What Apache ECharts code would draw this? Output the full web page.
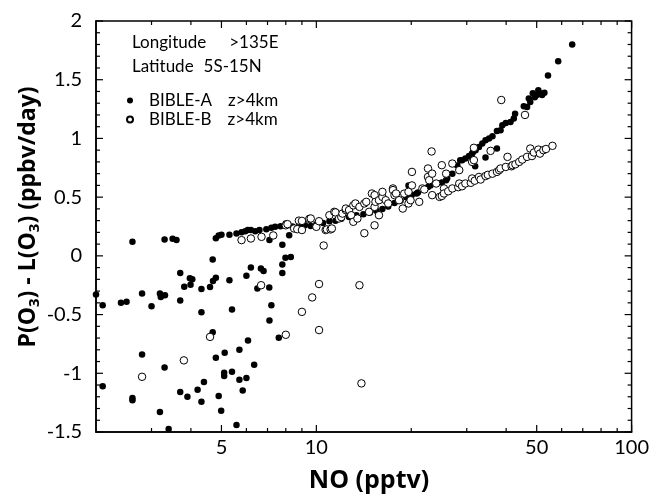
<!DOCTYPE html>
<html><head><meta charset="utf-8">
<script src="https://cdn.jsdelivr.net/npm/echarts@6/dist/echarts.min.js"></script>
<style>html,body{margin:0;padding:0;background:#fff}#c{width:652px;height:494px}</style>
</head><body><div id="c"></div>
<script>
// ---- axis ranges and tick values ----
const xMin = 2, xMax = 100;
const yMin = -1.5, yMax = 2, yStep = 0.5;
const xMajorTicks = [5, 10, 50, 100];
const xMinorTicks = [3, 4, 6, 7, 8, 9, 20, 30, 40, 60, 70, 80, 90];
const yMajorTicks = [-1.5, -1, -0.5, 0, 0.5, 1, 1.5, 2];
const yMinorTicks = [-1.4, -1.3, -1.2, -1.1, -0.9, -0.8, -0.7, -0.6, -0.4, -0.3, -0.2, -0.1,
                     0.1, 0.2, 0.3, 0.4, 0.6, 0.7, 0.8, 0.9, 1.1, 1.2, 1.3, 1.4, 1.6, 1.7, 1.8, 1.9];

// ---- BIBLE-A (filled) : [NO pptv, P(O3)-L(O3) ppbv/day] ----
const bibleA = [
  [2.0,-0.33],[2.1,-0.42],[2.1,-1.11],[2.4,-0.40],[2.5,-0.39],[2.61,0.12],[2.61,-1.21],[2.61,-1.23],
  [2.8,-0.32],[2.8,-0.84],[3.0,-0.43],[3.19,-0.32],[3.19,-1.33],[3.21,-0.35],[3.31,-0.335],[3.3,0.14],
  [3.3,-0.95],[3.4,-1.475],[3.5,0.145],[3.6,0.134],[3.7,-0.145],[3.7,-0.38],[3.7,-1.16],[3.81,-0.264],
  [3.9,-1.2],[3.97,-0.19],[4.04,-0.2],[3.99,-0.247],[4.2,-1.14],[4.32,-0.283],[4.32,-0.48],[4.32,-1.243],
  [4.4,-1.075],[4.6,-0.266],[4.69,-0.03],[4.69,-0.65],[4.7,-0.215],[4.8,-0.187],[4.8,-0.868],[4.9,-1.194],
  [4.99,-1.32],[5.1,-0.996],[5.1,-1.024],[5.12,-0.826],[5.3,-0.207],[5.4,-0.456],[5.4,-0.987],[5.58,-1.44],
  [5.7,-0.8],[5.7,-1.055],[5.84,-1.146],[6.0,-0.17],[6.0,-1.04],[6.07,-0.72],[6.2,-0.1],[6.35,-0.928],
  [6.5,-0.277],[6.67,-0.107],[6.8,-0.128],[7.09,-0.269],[7.2,-0.42],[7.1,-0.55],[7.1,0.134],[7.6,-0.698],
  [7.8,0.094],[7.8,-0.073],[7.8,-0.145],[7.98,-0.017],[8.3,-0.009],[8.2,0.176],
  [4.8,0.15],[4.9,0.174],[5.0,0.18],[5.3,0.18],[5.58,0.19],[5.79,0.2],[5.95,0.21],[6.06,0.22],[6.2,0.22],
  [6.4,0.21],[6.6,0.22],[6.94,0.227],[7.2,0.24],[7.4,0.247],[7.7,0.253],[8.0,0.26],[8.0,0.276],[8.4,0.25],
  [8.8,0.25],[9.2,0.26],[9.6,0.255],[10.0,0.27],[10.5,0.28],[11.0,0.295],[11.5,0.30],[12.0,0.315],
  [12.7,0.33],[13.4,0.345],[14.1,0.355],[14.8,0.37],[15.5,0.385],[16.2,0.40],[16.9,0.42],[17.7,0.45],
  [18.5,0.47],[19.3,0.50],[19.6,0.60],[20.1,0.52],[20.8,0.53],[21.0,0.54],[22.0,0.57],[22.6,0.587],
  [23.0,0.60],[24.0,0.615],[25.0,0.625],[25.8,0.644],[26.0,0.66],[27.0,0.70],[28.0,0.77],[28.6,0.815],
  [29.0,0.815],[29.7,0.829],[30.5,0.85],[31.2,0.871],[31.4,0.885],[32.0,0.9],[32.8,0.928],[33.6,0.957],
  [34.4,0.985],[35.3,1.0],[36.2,1.019],[37.4,1.064],[38.4,1.07],[38.9,1.112],[39.9,1.132],[41.3,1.14],
  [42.3,1.17],[42.7,1.21],[45.5,1.274],[46.6,1.268],[47.2,1.34],[47.7,1.31],[48.6,1.385],[49.3,1.35],
  [50.0,1.37],[50.6,1.41],[51.5,1.38],[52.0,1.37],[52.9,1.39],[54.3,1.535],[58.5,1.657],[64.8,1.80],
  [37.4,0.914],[34.4,0.837],[31.9,0.763]
];

// ---- BIBLE-B (open) ----
const bibleB = [
  [2.8,-1.03],[3.8,-0.89],[4.6,-0.69],[6.68,-0.25],[8.0,-0.672],[9.0,-0.477],[9.7,-0.354],[10.2,-0.24],
  [10.2,-0.632],[10.55,0.088],[13.7,-0.25],[13.9,-1.086],
  [5.79,0.134],[6.2,0.148],[6.7,0.162],[7.3,0.174],[8.0,0.26],[8.1,0.27],[8.5,0.233],[8.7,0.227],[8.8,0.30],
  [9.0,0.22],[9.0,0.298],[9.5,0.315],[9.6,0.318],[10.0,0.247],[10.2,0.295],[10.7,0.22],[10.8,0.225],
  [11.0,0.346],[11.1,0.225],[11.2,0.233],[11.4,0.375],[11.5,0.37],[11.8,0.318],[12.0,0.33],[12.1,0.36],
  [12.4,0.39],[12.4,0.403],[12.7,0.39],[12.9,0.346],[13.1,0.43],[13.1,0.29],[13.3,0.446],[13.5,0.318],
  [13.7,0.417],[14.2,0.193],[14.2,0.446],[14.4,0.46],[14.7,0.375],[15.0,0.531],[15.3,0.417],[15.3,0.26],
  [15.3,0.517],[15.4,0.46],[15.8,0.346],[15.8,0.474],[16.2,0.502],[16.2,0.545],[16.6,0.474],[16.9,0.446],
  [17.5,0.574],[17.5,0.56],[17.7,0.517],[17.9,0.531],[18.3,0.474],[18.8,0.403],[19.0,0.53],[19.6,0.545],
  [19.6,0.446],[19.9,0.474],[20.1,0.60],[20.1,0.715],[21.2,0.46],[21.7,0.574],[22.0,0.565],[22.6,0.672],
  [22.6,0.744],[22.8,0.644],[23.2,0.889],[23.3,0.70],[23.3,0.517],[24.0,0.616],[24.6,0.502],[25.0,0.772],
  [25.0,0.51],[25.4,0.574],[25.4,0.531],[25.8,0.70],[26.2,0.55],[27.0,0.574],[27.0,0.786],[28.2,0.585],
  [28.4,0.73],[28.4,0.616],[29.0,0.593],[29.7,0.616],[30.9,0.622],[31.2,0.8],[31.2,0.659],[31.6,0.92],
  [31.6,0.815],[31.8,0.64],[32.8,0.672],[33.2,0.65],[34.4,0.68],[35.0,0.69],[35.7,0.894],[36.2,0.70],
  [37.4,0.715],[38.0,0.73],[38.4,0.744],[38.6,1.327],[39.9,0.757],[40.4,0.843],[41.6,0.763],[41.9,0.772],
  [42.8,0.78],[44.0,0.8],[45.0,0.82],[45.9,1.20],[46.6,0.843],[47.7,0.914],[48.3,0.85],[49.0,0.88],
  [50.6,0.905],[51.2,0.871],[52.5,0.9],[53.5,0.91],[56.1,0.937]
];

const REG = 'Lato', BOLD = 'Open Sans';
const MAJOR_LEN = 7, MINOR_LEN = 4;

// tick descriptors built from the tick arrays: [x, y, length]
const xTickData = xMajorTicks.map(v => [v, yMin, MAJOR_LEN]).concat(xMinorTicks.map(v => [v, yMin, MINOR_LEN]));
const yTickData = yMajorTicks.map(v => [xMin, v, MAJOR_LEN]).concat(yMinorTicks.map(v => [xMin, v, MINOR_LEN]));

const tickStyle = {stroke: '#000', lineWidth: 1.2};

const chart = echarts.init(document.getElementById('c'));
chart.setOption({
  animation: false,
  backgroundColor: '#fff',
  grid: {left: 96, right: 19, top: 21, bottom: 62, containLabel: false},
  xAxis: {
    type: 'log', min: xMin, max: xMax, position: 'bottom',
    axisLine: {show: true, onZero: false, lineStyle: {color: '#000', width: 1.5}},
    axisTick: {show: false},
    axisLabel: {
      show: true, customValues: xMajorTicks, margin: 6, color: '#000', fontSize: 20, fontFamily: REG,
      formatter: v => String(Math.round(v))
    },
    splitLine: {show: false}
  },
  yAxis: {
    type: 'value', min: yMin, max: yMax, interval: yStep, position: 'left',
    axisLine: {show: true, onZero: false, lineStyle: {color: '#000', width: 1.5}},
    axisTick: {show: false},
    axisLabel: {show: true, margin: 14, color: '#000', fontSize: 20, fontFamily: REG},
    splitLine: {show: false}
  },
  legend: {
    orient: 'vertical', left: 126, top: 92, padding: 0, itemGap: 2,
    itemWidth: 6, itemHeight: 6, icon: 'circle',
    data: ['BIBLE-A z>4km', 'BIBLE-B z>4km'],
    formatter: name => {
      const p = name.split(' ');
      return '{n|' + p[0] + '}{z|' + p[1] + '}';
    },
    textStyle: {
      color: '#000', fontFamily: REG, fontSize: 17, padding: [0, 0, 0, 11],
      rich: {
        n: {fontFamily: REG, fontSize: 17, color: '#000'},
        z: {fontFamily: REG, fontSize: 17, color: '#000', padding: [0, 0, 0, 16]}
      }
    }
  },
  graphic: [
    {
      type: 'text', left: 132, top: 34, silent: true,
      style: {
        text: '{a|Longitude}{b|>135E}', fill: '#000',
        rich: {
          a: {fontFamily: REG, fontSize: 17, fill: '#000'},
          b: {fontFamily: REG, fontSize: 17, fill: '#000', padding: [0, 0, 0, 23]}
        }
      }
    },
    {
      type: 'text', left: 132, top: 58, silent: true,
      style: {
        text: '{a|Latitude}{b|5S-15N}', fill: '#000',
        rich: {
          a: {fontFamily: REG, fontSize: 17, fill: '#000'},
          b: {fontFamily: REG, fontSize: 17, fill: '#000', padding: [0, 0, 0, 10]}
        }
      }
    },
    {
      type: 'text', x: 369, y: 481, silent: true,
      style: {
        text: 'NO (pptv)', align: 'center', verticalAlign: 'middle', fill: '#000',
        fontFamily: BOLD, fontWeight: 'bold', fontSize: 25
      }
    },
    {
      type: 'text', x: 28, y: 217, rotation: Math.PI / 2, silent: true,
      style: {
        text: '{b|P(O}{s|3}{b|) - L(O}{s|3}{b|) (ppbv/day)}',
        align: 'center', verticalAlign: 'middle', fill: '#000',
        rich: {
          b: {fontFamily: BOLD, fontWeight: 'bold', fontSize: 23, lineHeight: 28, fill: '#000'},
          s: {fontFamily: BOLD, fontWeight: 'bold', fontSize: 15, lineHeight: 16, verticalAlign: 'bottom', fill: '#000'}
        }
      }
    }
  ],
  series: [
    {
      name: 'BIBLE-A z>4km', type: 'scatter', z: 2,
      data: bibleA, symbol: 'circle', symbolSize: 6.5,
      itemStyle: {color: '#000', opacity: 1}
    },
    {
      name: 'BIBLE-B z>4km', type: 'scatter', z: 2,
      data: bibleB, symbol: 'circle', symbolSize: 7.5,
      itemStyle: {color: '#fff', borderColor: '#000', borderWidth: 1, opacity: 1}
    },
    // x ticks on bottom and top edges, placed by the log axis scale
    {
      type: 'custom', name: 'xticks', silent: true, clip: false, z: 3,
      data: xTickData,
      renderItem: (params, api) => {
        const v = api.value(0), len = api.value(2);
        const b = api.coord([v, yMin]), t = api.coord([v, yMax]);
        return {type: 'group', children: [
          {type: 'line', shape: {x1: b[0], y1: b[1], x2: b[0], y2: b[1] - len}, style: tickStyle},
          {type: 'line', shape: {x1: t[0], y1: t[1], x2: t[0], y2: t[1] + len}, style: tickStyle}
        ]};
      }
    },
    // y ticks on left and right edges
    {
      type: 'custom', name: 'yticks', silent: true, clip: false, z: 3,
      data: yTickData,
      renderItem: (params, api) => {
        const v = api.value(1), len = api.value(2);
        const l = api.coord([xMin, v]), r = api.coord([xMax, v]);
        return {type: 'group', children: [
          {type: 'line', shape: {x1: l[0], y1: l[1], x2: l[0] + len, y2: l[1]}, style: tickStyle},
          {type: 'line', shape: {x1: r[0], y1: r[1], x2: r[0] - len, y2: r[1]}, style: tickStyle}
        ]};
      }
    },
    // plot frame (top and right edges)
    {
      type: 'custom', name: 'frame', silent: true, clip: false, z: 4,
      data: [[xMin, yMin]],
      renderItem: (params, api) => {
        const p0 = api.coord([xMin, yMax]), p1 = api.coord([xMax, yMin]);
        return {type: 'rect', shape: {x: p0[0], y: p0[1], width: p1[0] - p0[0], height: p1[1] - p0[1]},
                style: {fill: 'none', stroke: '#000', lineWidth: 1.5}};
      }
    }
  ]
});
</script>
</body></html>
